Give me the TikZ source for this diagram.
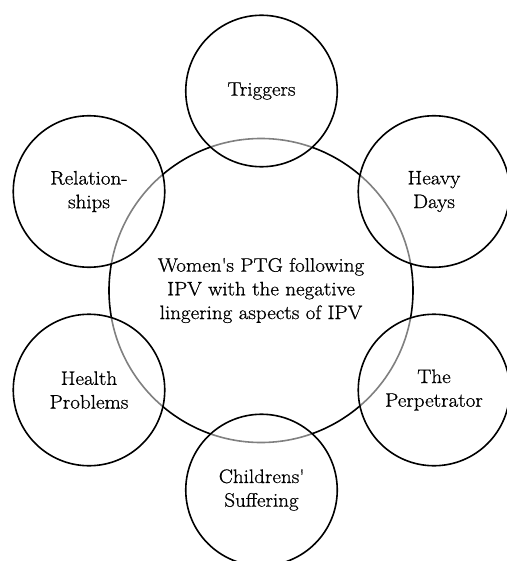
\documentclass[tikz,border=0pt]{standalone}
\usepackage{fontspec}
\setmainfont{Latin Modern Roman}[FakeStretch=1.08, FakeBold=0.8]
\begin{document}
\begin{tikzpicture}[x=1pt,y=-1pt,
  txt/.style={align=center, font=\fontsize{19.5}{23.7}\selectfont},
  sat/.style={txt, circle, draw=black, line width=1.6pt, fill=white, fill opacity=0.5, text opacity=1, minimum size=151.5pt, inner sep=0pt},
  hub/.style={txt, circle, draw=black, line width=1.6pt, minimum size=304pt, inner sep=0pt}]
\useasboundingbox (0,0) rectangle (506,561);
\node[hub] (hub) at (261,290.5) {Women\textquotesingle s PTG following\\IPV with the negative\\lingering aspects of IPV};
\node[sat] (trig) at (261.5,91) {Triggers};
\node[sat] (rel) at (89,191.5) {Relation-\\ships};
\node[sat] (heavy) at (434,191.5) {Heavy\\Days};
\node[sat] (health) at (89,390) {Health\\Problems};
\node[sat] (perp) at (434,390) {The\\Perpetrator};
\node[sat] (child) at (261.5,490) {Childrens\textquotesingle\\Suffering};
\end{tikzpicture}
\end{document}
